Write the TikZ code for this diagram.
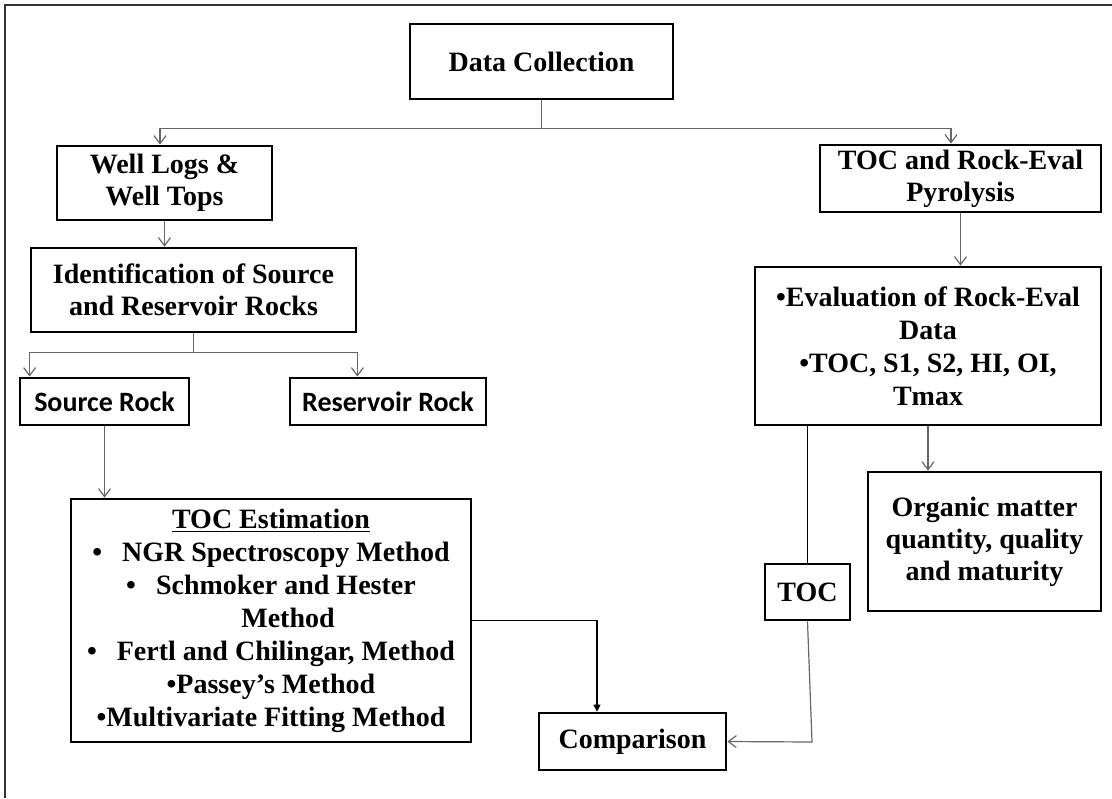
\documentclass[tikz,border=0pt]{standalone}
\usepackage{fontspec}
\setmainfont{Liberation Serif}
\newfontfamily\calibrifont{Carlito}
\usepackage{tikz}
\usetikzlibrary{arrows.meta,calc}
\definecolor{linegray}{HTML}{666666}

\begin{document}
\begin{tikzpicture}[
        x=0.5pt, y=-0.5pt,
        every node/.style={color=black, font=\fontsize{14}{16}\selectfont\bfseries},
        box/.style={draw, line width=1.4pt, inner sep=0pt, align=center},
        sansbox/.style={box, font=\fontsize{14}{16}\selectfont\calibrifont\bfseries},
        conn/.style={draw=linegray, line width=0.6pt},
        arrow/.style={conn, -{Straight Barb[length=4pt,width=6pt]}},
        fillarrow/.style={draw=black, line width=0.6pt, -{Triangle[length=3.5pt,width=3.5pt]}},
        frame/.style={draw=black!80, line width=1pt},
    ]
    \useasboundingbox (0,0) rectangle (1112,798);
    % frame
    \draw[frame] (5,798) -- (5,5) -- (1112,5);

    % top
    \node[box, minimum width=131.5pt, minimum height=37.5pt] (dc) at (541.5,61.5) {Data Collection};
    \node[box, minimum width=107.5pt, minimum height=37pt] (wl) at (164.5,183) {Well Logs \&\\Well Tops};
    \node[box, minimum width=140.5pt, minimum height=33.5pt] (tre) at (960.5,178.5) {TOC and Rock-Eval\\Pyrolysis};

    % left branch
    \node[box, minimum width=162.5pt, minimum height=42pt] (idf) at (193.5,290) {Identification of Source\\and Reservoir Rocks};
    \node[sansbox, minimum width=84.5pt, minimum height=23.5pt] (src) at (104.5,401.5) {Source Rock};
    \node[sansbox, minimum width=98pt, minimum height=23.5pt] (res) at (388,401.5) {Reservoir Rock};
    \node[box, minimum width=200pt, minimum height=121.5pt,
          font=\fontsize{14}{16.5}\selectfont\bfseries] (est) at (271,620.5)
        {\underline{TOC Estimation}\\
         \textbullet\hspace{10pt}NGR Spectroscopy Method\\
         \textbullet\hspace{10pt}Schmoker and Hester\\
         \hspace*{17pt}Method\\
         \textbullet\hspace{10pt}Fertl and Chilingar, Method\\
         \textbullet Passey’s Method\\
         \textbullet Multivariate Fitting Method};

    % right branch
    \node[box, minimum width=173pt, minimum height=79pt,
          font=\fontsize{14}{16.5}\selectfont\bfseries] (eval) at (928,346)
        {\textbullet Evaluation of Rock-Eval\\Data\\\textbullet TOC, S1, S2, HI, OI,\\Tmax};
    \node[box, minimum width=116.5pt, minimum height=69.5pt] (org) at (984.5,541.5)
        {Organic matter\\quantity, quality\\and maturity};
    \node[box, minimum width=42.5pt, minimum height=28pt] (toc) at (807.5,592) {TOC};
    \node[box, minimum width=93.5pt, minimum height=28.5pt] (cmp) at (632.5,741.5) {Comparison};

    % connectors
    \draw[conn] (dc.south) -- ++(0,28) coordinate (dcsplit);
    \draw[arrow] (dcsplit) -| ([xshift=-2.25pt]wl.north);
    \draw[arrow] (dcsplit) -| ([xshift=-4.75pt]tre.north);
    \draw[arrow] (wl.south) -- (wl.south |- idf.north);
    \draw[conn] (idf.south) -- ++(0,19) coordinate (idfsplit);
    \draw[arrow] (idfsplit) -| (idf.west |- src.north);
    \draw[arrow] (idfsplit) -| (idf.east |- res.north);
    \draw[arrow] (src.south) -- (src.south |- est.north);
    \draw[fillarrow] (est.east) -| ([xshift=-17.75pt]cmp.north);

    \draw[arrow] (tre.south) -- (tre.south |- eval.north);
    \draw[arrow] (eval.south) -- (eval.south |- org.north);
    \draw[black, line width=0.6pt] (eval.south -| toc.north) -- (toc.north);
    \coordinate (tocbend) at (812,742);
    \draw[arrow] (toc.south) -- (tocbend) -- (cmp.east);
\end{tikzpicture}
\end{document}
